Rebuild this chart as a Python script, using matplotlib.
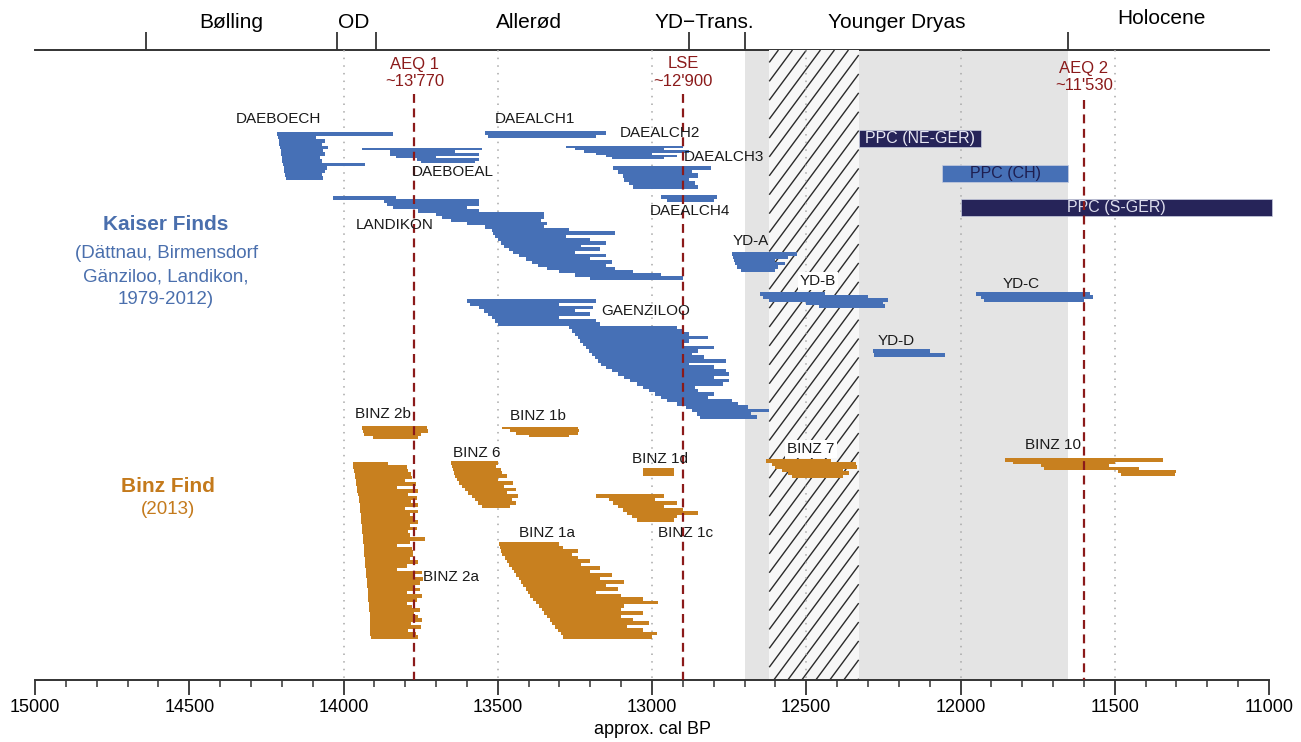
import numpy as np
import matplotlib
matplotlib.use("Agg")
import matplotlib.pyplot as plt
from matplotlib.patches import Rectangle
from matplotlib.collections import LineCollection

plt.rcParams["font.family"] = ["Liberation Sans", "DejaVu Sans"]

BLUE = "#4670b6"
ORANGE = "#c8801f"
NAVY = "#262459"
RED = "#8b1a1a"
KAISER_TXT = "#4a6fad"
BINZ_TXT = "#c47a1c"

# ---- data: one (from, to) cal BP range per dated row ----
DAEBOECH = [(14215, 13840), (14212, 14090), (14210, 14060), (14208, 14070), (14206, 14050),
            (14204, 14065), (14202, 14060), (14200, 14075), (14198, 14070), (14196, 13930),
            (14194, 14055), (14192, 14060), (14190, 14070), (14186, 14065)]
DAEBOEAL = [(13940, 13550), (13850, 13640), (13848, 13560), (13830, 13700), (13762, 13560),
            (13750, 13575)]
LANDIKON = [(14035, 13830), (13870, 13560), (13860, 13560), (13840, 13600), (13760, 13560),
            (13700, 13350), (13680, 13350), (13650, 13360), (13600, 13340), (13540, 13350),
            (13520, 13270), (13515, 13120), (13510, 13280), (13500, 13200), (13490, 13150),
            (13480, 13230), (13465, 13170), (13450, 13250), (13430, 13150), (13410, 13200),
            (13390, 13130), (13370, 13150), (13340, 13120), (13300, 13060), (13250, 12970),
            (13200, 12900)]
DAEALCH1 = [(13540, 13150), (13530, 13180)]
DAEALCH2 = [(13280, 12900), (13250, 12960), (13220, 12880), (13180, 13000), (13150, 12920),
            (13130, 12960)]
DAEALCH3 = [(13125, 12810), (13110, 12870), (13095, 12850), (13090, 12880), (13075, 12860),
            (13060, 12850)]
DAEALCH4 = [(12970, 12790), (12950, 12800)]
GAENZILOO = [(13600, 13180), (13590, 13300), (13560, 13190), (13545, 13250), (13530, 13200),
             (13520, 13300), (13510, 13180), (13500, 13170), (13270, 12920), (13260, 12900),
             (13250, 12880), (13240, 12820), (13235, 12880), (13225, 12900), (13215, 12800),
             (13205, 12850), (13195, 12870), (13185, 12830), (13175, 12760), (13165, 12880),
             (13150, 12800), (13130, 12760), (13110, 12750), (13090, 12800), (13070, 12750),
             (13050, 12770), (13030, 12860), (13010, 12850), (12990, 12800), (12970, 12820),
             (12950, 12740), (12920, 12720), (12890, 12690), (12870, 12620), (12855, 12680),
             (12845, 12660)]
YD_A = [(12740, 12530), (12738, 12560), (12735, 12600), (12730, 12570), (12725, 12590),
        (12710, 12600)]
YD_B = [(12650, 12440), (12640, 12300), (12620, 12235), (12500, 12250), (12460, 12245)]
YD_C = [(11950, 11580), (11935, 11570), (11925, 11600)]
YD_D = [(12285, 12100), (12280, 12050)]

BINZ_2B = [(13940, 13730), (13938, 13725), (13935, 13750), (13905, 13760)]
BINZ_2A = [(13970, 13855), (13968, 13795), (13966, 13790), (13964, 13780), (13962, 13779),
           (13960, 13800), (13958, 13765), (13957, 13828), (13955, 13760), (13953, 13790),
           (13951, 13763), (13950, 13780), (13948, 13758), (13947, 13800), (13945, 13758),
           (13944, 13784), (13943, 13774), (13942, 13760), (13941, 13784), (13940, 13763),
           (13939, 13790), (13938, 13784), (13937, 13736), (13936, 13784), (13935, 13828),
           (13934, 13779), (13933, 13774), (13932, 13774), (13931, 13784), (13930, 13760),
           (13929, 13795), (13928, 13828), (13927, 13747), (13926, 13774), (13925, 13741),
           (13924, 13752), (13923, 13774), (13922, 13752), (13921, 13795), (13920, 13747),
           (13919, 13763), (13918, 13795), (13917, 13779), (13916, 13752), (13915, 13770),
           (13915, 13760), (13914, 13745), (13914, 13780), (13914, 13750), (13913, 13790),
           (13913, 13765), (13912, 13760)]
BINZ_6 = [(13650, 13500), (13648, 13505), (13645, 13490), (13642, 13485), (13638, 13470),
          (13632, 13500), (13625, 13450), (13615, 13480), (13605, 13440), (13595, 13470),
          (13585, 13435), (13575, 13455), (13565, 13440), (13550, 13460)]
BINZ_1B = [(13485, 13240), (13460, 13238), (13440, 13240), (13400, 13270)]
BINZ_1D = [(13030, 12930), (13030, 12930)]
BINZ_1C = [(13180, 12960), (13140, 12990), (13125, 12920), (13110, 12960), (13095, 12900),
           (13080, 12850), (13065, 12920), (13050, 12930)]
BINZ_1A = [(13495, 13300), (13493, 13290), (13490, 13240), (13485, 13260), (13478, 13240),
           (13470, 13200), (13462, 13230), (13455, 13170), (13448, 13200), (13440, 13130),
           (13432, 13170), (13425, 13090), (13418, 13150), (13410, 13110), (13402, 13180),
           (13395, 13100), (13385, 13030), (13375, 12980), (13365, 13090), (13358, 13100),
           (13350, 13030), (13340, 13100), (13332, 13060), (13325, 13010), (13315, 13080),
           (13305, 13030), (13295, 12985), (13288, 13000)]
BINZ_7 = [(12630, 12420), (12610, 12340), (12600, 12335), (12580, 12380), (12560, 12360),
          (12545, 12380)]
BINZ_10 = [(11855, 11345), (11830, 11500), (11740, 11520), (11730, 11420), (11490, 11300),
           (11480, 11305)]

PPC_NAMES = ["PPC (NE-GER)", "PPC (CH)", "PPC (S-GER)"]
PPC_RANGES = [(12330, 11935), (12060, 11650), (12000, 10990)]

PERIODS = ["Bølling", "OD", "Allerød", "YD\u2212Trans.", "Younger Dryas", "Holocene"]
PERIOD_X = [14365, 13966, 13399, 12831, 12206, 11350]
BOUNDARIES = [14640, 14020, 13895, 12880, 12700, 11650]

EVENTS = ["AEQ 1", "LSE", "AEQ 2"]
EVENT_AGE_TXT = ["~13'770", "~12'900", "~11'530"]
EVENT_X = [13770, 12900, 11600]

YD_SPAN = (12700, 11650)
HATCH_SPAN = (12620, 12330)
GRID_YEARS = [14000, 13500, 13000, 12500, 12000, 11500]

# ---- layout (vertical rows are in figure-pixel units, top = 50, axis = 680) ----
# name, data, first row, last row, colour, label x, label y
GROUPS = [
    ("DAEBOECH", DAEBOECH, 134, 178, BLUE, 14212, 119),
    ("DAEBOEAL", DAEBOEAL, 149, 162, BLUE, 13645, 172),
    ("LANDIKON", LANDIKON, 198, 278, BLUE, 13833, 225),
    ("DAEALCH1", DAEALCH1, 133, 136, BLUE, 13379, 119),
    ("DAEALCH2", DAEALCH2, 147, 158, BLUE, 12974, 133),
    ("DAEALCH3", DAEALCH3, 168, 187, BLUE, 12767, 157),
    ("DAEALCH4", DAEALCH4, 197, 200, BLUE, 12877, 211),
    ("GAENZILOO", GAENZILOO, 301, 417, BLUE, 13019, 311),
    ("YD-A", YD_A, 254, 270, BLUE, 12679, 241),
    ("YD-B", YD_B, 294, 306, BLUE, 12462, 281),
    ("YD-C", YD_C, 294, 300, BLUE, 11804, 284),
    ("YD-D", YD_D, 351, 355, BLUE, 12209, 341),
    ("BINZ 2b", BINZ_2B, 428, 437, ORANGE, 13872, 414),
    ("BINZ 2a", BINZ_2A, 464, 637, ORANGE, 13652, 577),
    ("BINZ 6", BINZ_6, 463, 506, ORANGE, 13567, 453),
    ("BINZ 1b", BINZ_1B, 428, 436, ORANGE, 13370, 416),
    ("BINZ 1d", BINZ_1D, 470, 474, ORANGE, 12974, 459),
    ("BINZ 1c", BINZ_1C, 496, 520, ORANGE, 12890, 533),
    ("BINZ 1a", BINZ_1A, 544, 637, ORANGE, 13340, 533),
    ("BINZ 7", BINZ_7, 461, 476, ORANGE, 12485, 449),
    ("BINZ 10", BINZ_10, 460, 474, ORANGE, 11700, 445),
]
BOXED = {"YD-B", "BINZ 7"}
PPC_ROWS = [(130, 147), (165, 182), (199, 216)]
PPC_COLORS = [NAVY, BLUE, NAVY]
PPC_TXT = ["#e6e6f2", "#1e1e50", "#dcdcec"]
EVENT_TXT_Y = [(64, 81), (64, 81), (69, 86)]
EVENT_LINE_TOP = [94, 94, 100]

W, H = 1301, 742
X0, X1 = 35, 1269
Y_TOP, Y_AX = 50, 680
PX_PER_YR = (X1 - X0) / 4000.0

fig = plt.figure(figsize=(W / 100, H / 100), dpi=100)
ax = fig.add_axes([X0 / W, (H - Y_AX) / H, (X1 - X0) / W, (Y_AX - Y_TOP) / H])
ax.set_xlim(15000, 11000)
ax.set_ylim(Y_AX, Y_TOP)

# Younger Dryas shading + hatched band
ax.axvspan(YD_SPAN[0], YD_SPAN[1], color="#e4e4e4", lw=0, zorder=0)
hx0, hx1 = HATCH_SPAN
ax.add_patch(Rectangle((hx0, Y_TOP), hx1 - hx0, Y_AX - Y_TOP, fc="#f7f7f7", ec="none", zorder=0.5))
run = (Y_AX - Y_TOP) / 1.35 / PX_PER_YR
segs = []
for b in np.arange(hx1 + 3, hx0 + run, 14 / PX_PER_YR):
    t0 = max(0.0, (b - hx0) / run)
    t1 = min(1.0, (b - hx1) / run)
    if t1 <= t0:
        continue
    segs.append([(b - run * t0, Y_AX - t0 * (Y_AX - Y_TOP)),
                 (b - run * t1, Y_AX - t1 * (Y_AX - Y_TOP))])
ax.add_collection(LineCollection(segs, colors="#2b2b2b", linewidths=1.0, zorder=0.6))

# dotted 500-yr guides
ax.vlines(GRID_YEARS, Y_TOP, Y_AX, colors="#a8a8a8", linestyles=(0, (1, 4)), lw=1.1, zorder=1)

# bars
for name, rows, ytop, ybot, col, lx, ly in GROUPS:
    n = len(rows)
    ys = np.linspace(ytop, ybot, n) if n > 1 else np.array([ytop])
    pitch = (ybot - ytop) / (n - 1) if n > 1 else 3.3
    starts = np.array([r[0] for r in rows])
    ends = np.array([r[1] for r in rows])
    ax.barh(ys, ends - starts, left=starts, height=pitch * 1.12, color=col,
            linewidth=0, zorder=3)
    kw = dict(bbox=dict(fc="white", ec="none", pad=1.5)) if name in BOXED else {}
    ax.text(lx, ly, name, ha="center", va="center", fontsize=11, color="#1a1a1a",
            zorder=6, **kw)

# PPC boxes
for nm, (a, b), (y0, y1), c, tc in zip(PPC_NAMES, PPC_RANGES, PPC_ROWS, PPC_COLORS, PPC_TXT):
    ax.add_patch(Rectangle((a, y0), b - a, y1 - y0, fc=c, ec="#c8cde0", lw=0.5,
                           zorder=4, clip_on=False))
    ax.text((a + b) / 2, (y0 + y1) / 2, nm, ha="center", va="center", fontsize=11.5,
            color=tc, zorder=5)

# event lines
for ev, age, x, (t1, t2), top in zip(EVENTS, EVENT_AGE_TXT, EVENT_X, EVENT_TXT_Y, EVENT_LINE_TOP):
    ax.vlines(x, top, Y_AX, colors=RED, linestyles=(0, (4, 2.5)), lw=1.6, zorder=5)
    ax.text(x, t1, ev, ha="center", va="center", fontsize=12, color=RED)
    ax.text(x, t2, age, ha="center", va="center", fontsize=12, color=RED)

# group titles
ax.text(14575, 225, "Kaiser Finds", ha="center", va="center", fontsize=15,
        fontweight="bold", color=KAISER_TXT)
for yy, line in zip([253, 277, 300], ["(Dättnau, Birmensdorf", "Gänziloo, Landikon,", "1979-2012)"]):
    ax.text(14575, yy, line, ha="center", va="center", fontsize=13.5, color=KAISER_TXT)
ax.text(14570, 487, "Binz Find", ha="center", va="center", fontsize=15,
        fontweight="bold", color=BINZ_TXT)
ax.text(14570, 510, "(2013)", ha="center", va="center", fontsize=13.5, color=BINZ_TXT)

# axes
for s in ["left", "right", "top"]:
    ax.spines[s].set_visible(False)
ax.spines["bottom"].set_linewidth(1.4)
ax.spines["bottom"].set_color("#333333")
ax.set_yticks([])
ax.set_xticks(np.arange(15000, 10999, -500))
ax.set_xticks(np.arange(15000, 10999, -100), minor=True)
ax.tick_params(axis="x", which="major", length=11, width=1.3, color="#333333",
               labelsize=13, pad=3)
ax.tick_params(axis="x", which="minor", length=5, width=1.1, color="#333333")
ax.set_xlabel("approx. cal BP", fontsize=13, labelpad=3)

top = ax.secondary_xaxis("top")
top.set_xticks(BOUNDARIES, labels=[""] * len(BOUNDARIES))
top.tick_params(length=13, width=1.3, color="#333333")
top.spines["top"].set_linewidth(1.4)
top.spines["top"].set_color("#333333")
for nm, x in zip(PERIODS, PERIOD_X):
    ax.text(x, 18 if nm == "Holocene" else 23, nm, ha="center", va="center",
            fontsize=15, clip_on=False)

fig.savefig("out.png", dpi=100)
